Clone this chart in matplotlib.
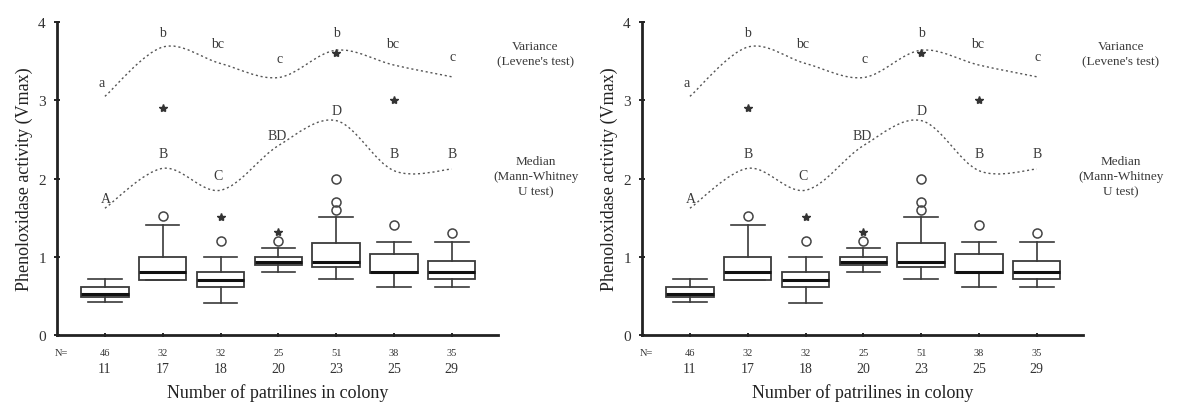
import numpy as np
import matplotlib
matplotlib.use("Agg")
import matplotlib.pyplot as plt
from matplotlib.path import Path
from matplotlib.patches import PathPatch

plt.rcParams['font.family'] = ['Liberation Serif', 'DejaVu Serif']

# data
patrilines = ['11', '17', '18', '20', '23', '25', '29']
n_workers = ['46', '32', '32', '25', '51', '38', '35']
q1 = [0.49, 0.70, 0.61, 0.90, 0.87, 0.79, 0.71]
med = [0.52, 0.80, 0.70, 0.93, 0.93, 0.81, 0.80]
q3 = [0.61, 1.00, 0.80, 1.00, 1.17, 1.03, 0.94]
wlo = [0.42, 0.70, 0.41, 0.80, 0.72, 0.61, 0.61]
whi = [0.72, 1.41, 1.00, 1.11, 1.51, 1.19, 1.19]
outl_circle = [[], [1.52], [1.20], [1.20], [1.60, 1.70, 2.00], [1.40], [1.31]]
outl_star = [[], [2.90], [1.51], [1.32], [3.60], [3.00], []]

var_curve = [3.05, 3.68, 3.47, 3.29, 3.64, 3.45, 3.30]
var_letters = ['a', 'b', 'bc', 'c', 'b', 'bc', 'c']
var_lab_y = [3.15, 3.78, 3.64, 3.45, 3.78, 3.64, 3.47]
med_curve = [1.62, 2.13, 1.85, 2.42, 2.74, 2.10, 2.12]
med_letters = ['A', 'B', 'C', 'BD', 'D', 'B', 'B']
med_lab_y = [1.66, 2.24, 1.96, 2.47, 2.79, 2.24, 2.24]
var_lab_dx = [-0.05, 0, -0.05, 0.02, 0, -0.02, 0.02]
med_lab_dx = [0.02, 0, -0.05, -0.02, 0, 0, 0]


def smooth_curve(ax, xs, ys):
    # Catmull-Rom through the points, drawn as cubic bezier segments
    pts = np.column_stack([xs, ys])
    verts = [pts[0]]
    codes = [Path.MOVETO]
    for i in range(len(pts) - 1):
        p0 = pts[i - 1] if i > 0 else pts[i]
        p1 = pts[i]
        p2 = pts[i + 1]
        p3 = pts[i + 2] if i + 2 < len(pts) else pts[i + 1]
        verts += [p1 + (p2 - p0) / 6.0, p2 - (p3 - p1) / 6.0, p2]
        codes += [Path.CURVE4] * 3
    ax.add_patch(PathPatch(Path(verts, codes), fill=False, edgecolor='#555555',
                           lw=1.0, linestyle=(0, (1.5, 2.0))))


fig = plt.figure(figsize=(11.79, 4.06), dpi=100)
positions = np.arange(1, len(patrilines) + 1)

for x0 in [0.0483, 0.5445]:
    ax = fig.add_axes([x0, 0.1724, 0.3741, 0.7709])
    stats = []
    for i in range(len(patrilines)):
        stats.append(dict(med=med[i], q1=q1[i], q3=q3[i], whislo=wlo[i],
                          whishi=whi[i], fliers=[]))
    ax.bxp(stats, positions=positions, widths=0.82, patch_artist=True,
           boxprops=dict(facecolor='white', edgecolor='#3a3a3a', lw=1.3),
           medianprops=dict(color='#111111', lw=2.2),
           whiskerprops=dict(color='#3a3a3a', lw=1.2),
           capprops=dict(color='#3a3a3a', lw=1.2), capwidths=0.58)
    for i, p in enumerate(positions):
        if outl_circle[i]:
            ax.plot([p] * len(outl_circle[i]), outl_circle[i], 'o', ms=6.5,
                    mfc='none', mec='#444444', mew=1.1)
        if outl_star[i]:
            ax.plot([p] * len(outl_star[i]), outl_star[i], '*', ms=6,
                    color='#333333')

    smooth_curve(ax, positions, var_curve)
    smooth_curve(ax, positions, med_curve)
    for i, p in enumerate(positions):
        ax.text(p + var_lab_dx[i], var_lab_y[i], var_letters[i], ha='center',
                va='bottom', fontsize=10, color='#3a3a3a')
        ax.text(p + med_lab_dx[i], med_lab_y[i], med_letters[i], ha='center',
                va='bottom', fontsize=10, color='#3a3a3a')

    ax.text(8.45, 3.6, "Variance\n(Levene's test)", ha='center', va='center',
            fontsize=9.5, color='#3a3a3a', linespacing=1.4, clip_on=False)
    ax.text(8.45, 2.03, "Median\n(Mann-Whitney\nU test)", ha='center',
            va='center', fontsize=9.5, color='#3a3a3a', linespacing=1.35,
            clip_on=False)

    ax.set_xlim(0.17, 7.8)
    ax.set_ylim(0, 4)
    ax.set_yticks([0, 1, 2, 3, 4])
    ax.set_xticks(positions)
    ax.set_xticklabels(patrilines, fontsize=10, color='#333333')
    ax.tick_params(axis='x', length=3, width=1.2, direction='inout', pad=18)
    ax.tick_params(axis='y', length=4, width=1.2, direction='inout', pad=6,
                   labelsize=11, labelcolor='#333333')
    for s in ['top', 'right']:
        ax.spines[s].set_visible(False)
    for s in ['left', 'bottom']:
        ax.spines[s].set_linewidth(2.0)
        ax.spines[s].set_color('#222222')

    tr = ax.get_xaxis_transform()
    for i, p in enumerate(positions):
        ax.text(p, -0.055, n_workers[i], transform=tr, ha='center', va='center',
                fontsize=7.5, color='#333333')
    ax.text(0.25, -0.055, 'N=', transform=tr, ha='center', va='center',
            fontsize=7.5, color='#333333')

    ax.set_xlabel('Number of patrilines in colony', fontsize=13,
                  color='#222222', labelpad=6)
    ax.set_ylabel('Phenoloxidase activity (Vmax)', fontsize=13,
                  color='#222222', labelpad=4)

fig.savefig('out.png', dpi=100)
